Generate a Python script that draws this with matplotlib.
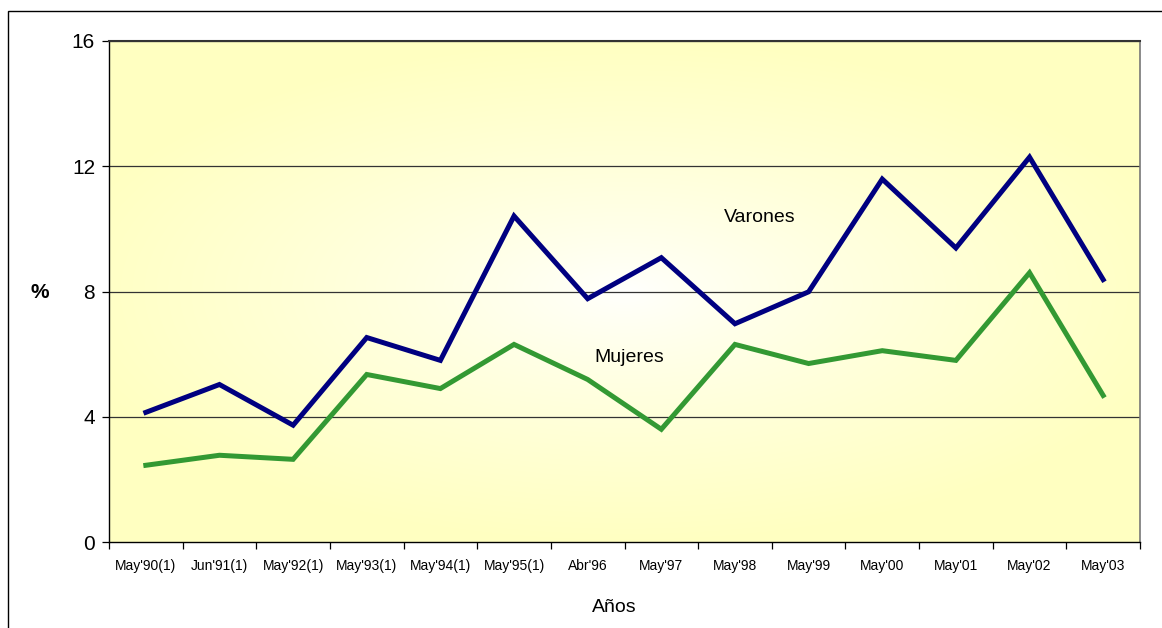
import matplotlib
matplotlib.use("Agg")
import matplotlib.pyplot as plt
import numpy as np
from matplotlib.patches import Rectangle

plt.rcParams['font.family'] = ['Liberation Sans', 'DejaVu Sans']

periods = ["May'90(1)", "Jun'91(1)", "May'92(1)", "May'93(1)", "May'94(1)",
           "May'95(1)", "Abr'96", "May'97", "May'98", "May'99",
           "May'00", "May'01", "May'02", "May'03"]
varones = [4.14, 5.03, 3.73, 6.53, 5.80, 10.41, 7.77, 9.08, 6.97, 7.99,
           11.59, 9.39, 12.29, 8.38]
mujeres = [2.45, 2.77, 2.64, 5.35, 4.90, 6.31, 5.19, 3.60, 6.31, 5.70,
           6.11, 5.80, 8.60, 4.68]
y_ticks = [0, 4, 8, 12, 16]

fig = plt.figure(figsize=(11.62, 6.28), dpi=100)
ax = fig.add_axes([109 / 1162, 86 / 628, 1031 / 1162, 501 / 628])

# outer chart border (only left/top visible in the reference)
fig.patches.append(Rectangle((8 / 1162, -0.1), 1.2, 1.1 - 11 / 628,
                             transform=fig.transFigure, fill=False,
                             edgecolor='black', linewidth=1.0))

# gradient background: white centre fading to pale yellow
n = len(periods)
gx, gy = np.meshgrid(np.linspace(-1, 1, 400), np.linspace(-1, 1, 300))
d = np.clip(np.sqrt((gx / 1.05) ** 2 + (gy / 0.95) ** 2) / 1.05, 0, 1) ** 0.75
white = np.array([1.0, 1.0, 1.0])
yellow = np.array([1.0, 1.0, 0.76])
img = white[None, None, :] * (1 - d[..., None]) + yellow[None, None, :] * d[..., None]
ax.imshow(img, extent=(-0.5, n - 0.5, 0, 16), aspect='auto', zorder=0,
          interpolation='bilinear')

x = np.arange(n)
ax.plot(x, varones, color='#000080', linewidth=3.6, zorder=3,
        solid_joinstyle='miter')
ax.plot(x, mujeres, color='#339933', linewidth=3.6, zorder=3,
        solid_joinstyle='miter')

ax.set_xlim(-0.5, n - 0.5)
ax.set_ylim(0, 16)
ax.set_yticks(y_ticks)
ax.set_yticklabels([str(v) for v in y_ticks], fontsize=15)
for v in y_ticks[1:]:
    ax.axhline(v, color='#333333', linewidth=0.9, zorder=1)

ax.set_xticks(np.arange(n + 1) - 0.5)
ax.set_xticklabels([])
ax.set_xticks(x, minor=True)
ax.set_xticklabels(periods, minor=True, fontsize=10)
ax.tick_params(axis='x', which='minor', length=0, pad=12)
ax.tick_params(axis='x', which='major', length=5, width=0.9, direction='out')
ax.tick_params(axis='y', length=5, width=0.9, direction='out', pad=5)

for side in ['left', 'bottom']:
    ax.spines[side].set_color('black')
    ax.spines[side].set_linewidth(1.0)
ax.spines['top'].set_color('#333333')
ax.spines['top'].set_linewidth(1.5)
ax.spines['right'].set_color('#777777')
ax.spines['right'].set_linewidth(1.2)

ax.text(8.33, 10.35, 'Varones', fontsize=14, ha='center', va='center', zorder=4)
ax.text(6.56, 5.9, 'Mujeres', fontsize=14, ha='center', va='center', zorder=4)

fig.text(40 / 1162, 1 - 293 / 628, '%', fontsize=15, fontweight='bold',
         ha='center', va='center')
fig.text(614 / 1162, 1 - 608 / 628, 'Años', fontsize=14, ha='center',
         va='center')

fig.savefig('out.png', dpi=100)
